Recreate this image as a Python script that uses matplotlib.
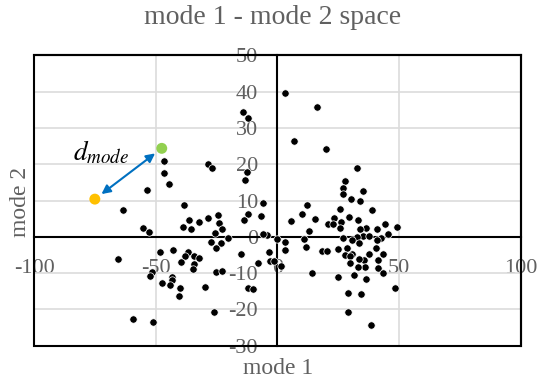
import matplotlib.pyplot as plt
from matplotlib.patches import Rectangle

plt.rcParams['font.family'] = 'Liberation Serif'
plt.rcParams['mathtext.fontset'] = 'stix'
plt.rcParams['axes.unicode_minus'] = False

# scatter of all samples (mode 1 score, mode 2 score)
mode1 = [-14.0, -11.9, -46.4, -46.5, -44.4, -53.4, -28.3, -27.0, -12.6, -13.3,
         -38.2, -6.0, -63.5, -11.9, -6.6, -24.5, -28.5, -32.0, -36.3, -13.7,
         -24.0, -38.9, -35.5, -22.8, -55.1, -52.6, -25.6, -20.1, -27.2, -23.1,
         -25.2, -4.4, -5.8, -0.1, -42.7, -48.1, -36.8, -37.9, -14.8, -3.3,
         -34.1, -32.3, -39.4, -34.3, -34.5, -7.8, -3.1, -1.2, 1.7, -65.6,
         -51.6, -52.5, -25.3, -22.7, -43.1, -43.4, -47.2, -44.0, -40.1, -29.7,
         -11.9, -10.0, -40.5, -26.1, -59.2, -50.9,
         3.2, 16.2, 6.9, 19.9, 32.9, 27.9, 26.8, 27.1, 35.0, 30.2,
         33.9, 12.1, 25.8, 39.0, 10.3, 29.5, 23.4, 5.6, 15.4, 33.0,
         21.0, 23.0, 26.0, 25.8, 44.4, 49.3, 36.3, 40.8, 13.0, 34.0,
         26.9, 35.4, 37.7, 32.9, 42.8, 45.5, 30.8, 33.7, 41.0, 3.3,
         11.0, 3.2, 11.7, 18.3, 20.3, 25.1, 28.5, 40.4, 30.7, 28.0,
         29.9, 37.7, 43.5, 35.6, 33.4, 41.3, 30.0, 36.2, 33.0, 41.2,
         31.5, 43.3, 24.8, 36.3, 14.4, 48.5, 29.2, 34.5, 29.2, 38.6]
mode2 = [34.3, 32.9, 20.9, 17.7, 14.5, 13.0, 20.0, 18.9, 17.9, 15.7,
         8.7, 9.2, 7.3, 6.3, 5.8, 6.1, 5.2, 4.0, 4.6, 4.6,
         3.7, 2.6, 2.3, 2.1, 2.4, 1.4, 1.2, -0.2, -1.4, -1.8,
         -3.2, 0.6, 0.8, -0.6, -3.6, -4.2, -4.1, -5.4, -4.8, -4.1,
         -5.2, -5.9, -7.0, -7.6, -8.8, -7.2, -6.7, -6.7, -8.1, -6.2,
         -9.6, -10.9, -9.6, -9.4, -11.2, -11.8, -12.6, -13.2, -14.1, -13.9,
         -14.1, -14.4, -16.2, -20.7, -22.7, -23.4,
         39.6, 35.9, 26.3, 24.2, 19.0, 15.4, 13.5, 11.8, 12.7, 10.5,
         10.0, 8.9, 7.7, 7.4, 6.2, 5.5, 5.2, 4.3, 4.8, 4.7,
         3.6, 3.6, 4.2, 2.4, 3.5, 2.8, 2.5, 2.1, 1.6, 2.3,
         -0.4, 0.1, 0.3, 0.0, -0.3, 0.8, -0.8, -1.7, -1.0, -1.5,
         -0.5, -3.6, -2.8, -4.0, -3.9, -3.3, -3.0, -3.0, -4.7, -5.1,
         -5.4, -4.8, -4.6, -6.3, -6.0, -6.4, -7.3, -8.2, -8.4, -8.6,
         -10.4, -10.1, -11.2, -11.5, -10.1, -14.0, -15.5, -15.8, -20.7, -24.3]

# the two highlighted samples
ref_x, ref_y = [-75.0], [10.4]
sel_x, sel_y = [-47.5], [24.4]

xticks = [-100, -50, 0, 50, 100]
yticks = [-30, -20, -10, 0, 10, 20, 30, 40, 50]

grey = '#606060'

fig = plt.figure(figsize=(5.38, 3.81), dpi=100)
ax = fig.add_axes([0.0632, 0.0927, 0.9046, 0.7617])

ax.grid(color='#dcdcdc', lw=1.2)
ax.set_xlim(-100, 100)
ax.set_ylim(-30, 50)
ax.set_xticks(xticks)
ax.set_yticks(yticks)
ax.tick_params(length=0, labelsize=16, labelcolor=grey)
ax.tick_params(axis='x', pad=16)
ax.tick_params(axis='y', pad=14)

# axes crossing at zero, plus a box around the plot area
ax.spines['left'].set_position(('data', 0))
ax.spines['bottom'].set_position(('data', 0))
for s in ax.spines.values():
    s.set_linewidth(1.5)
    s.set_color('black')
ax.add_patch(Rectangle((0, 0), 1, 1, transform=ax.transAxes, fill=False,
                       lw=1.5, ec='black', clip_on=False, zorder=2.5))

ax.scatter(mode1, mode2, s=28, c='black', edgecolors='white', linewidths=0.5, zorder=3)
ax.scatter(ref_x, ref_y, s=62, c='#FFC000', edgecolors='none', zorder=4)
ax.scatter(sel_x, sel_y, s=62, c='#92D050', edgecolors='none', zorder=4)

ax.annotate('', xy=(sel_x[0], sel_y[0]), xytext=(ref_x[0], ref_y[0]),
            arrowprops=dict(arrowstyle='<|-|>', color='#0070C0', lw=1.5,
                            shrinkA=6, shrinkB=6, mutation_scale=13), zorder=4)
ax.text(-84, 21, r'$d_{mode}$', fontsize=19.5, color='black', zorder=5)

fig.text(273 / 538, 1 - 17 / 381, 'mode 1 - mode 2 space', ha='center', va='center',
         fontsize=20, color=grey)
fig.text(278 / 538, 1 - 368 / 381, 'mode 1', ha='center', va='center',
         fontsize=17, color=grey)
fig.text(20 / 538, 1 - 202 / 381, 'mode 2', ha='center', va='center',
         fontsize=17, color=grey, rotation=90)

fig.savefig('out.png', dpi=100)
